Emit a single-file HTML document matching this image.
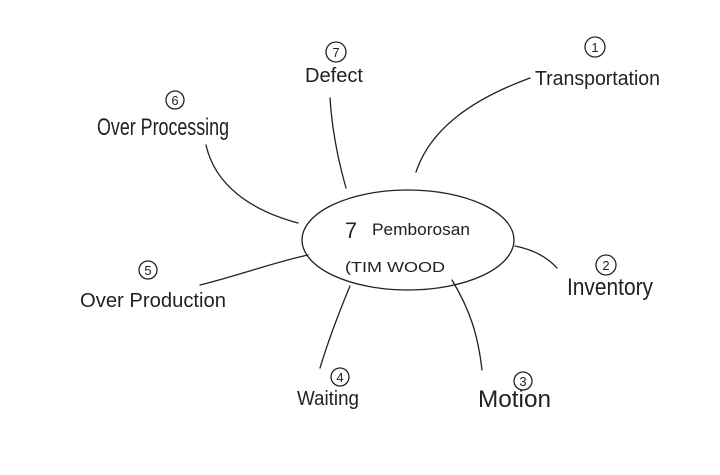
<!DOCTYPE html>
<html><head><meta charset="utf-8"><style>
html,body{margin:0;padding:0;background:#fff;}
svg{display:block}
text{font-family:"Liberation Sans",sans-serif;fill:#222;}
</style></head><body>
<svg width="720" height="475" viewBox="0 0 720 475" xmlns="http://www.w3.org/2000/svg">
<g fill="none" stroke="#222" stroke-width="1.3" stroke-linecap="round">
<ellipse cx="408" cy="240" rx="106" ry="50"/>
<path d="M416,172 C430,130 470,100 530,78"/>
<path d="M330,98 C332,130 338,160 346,188"/>
<path d="M206,145 C215,185 250,210 298,223"/>
<path d="M200,285 C240,275 275,262 308,255"/>
<path d="M350,286 C340,310 330,335 320,368"/>
<path d="M452,280 C470,310 478,335 482,370"/>
<path d="M515,246 C535,250 548,258 557,268"/>
<circle cx="595" cy="47" r="10"/>
<circle cx="336" cy="52" r="10"/>
<circle cx="175" cy="100" r="9"/>
<circle cx="148" cy="270" r="9"/>
<circle cx="340" cy="377" r="9"/>
<circle cx="523" cy="381" r="9"/>
<circle cx="606" cy="265" r="10"/>
</g>
<g font-size="13" text-anchor="middle">
<text x="595" y="52">1</text>
<text x="336" y="57">7</text>
<text x="175" y="105">6</text>
<text x="148" y="275">5</text>
<text x="340" y="382">4</text>
<text x="523" y="386">3</text>
<text x="606" y="270">2</text>
</g>
<g font-size="20" font-weight="300">
<text x="535" y="85" textLength="125" lengthAdjust="spacingAndGlyphs">Transportation</text>
<text x="305" y="82" textLength="58" lengthAdjust="spacingAndGlyphs">Defect</text>
<text x="97" y="135" font-size="24" textLength="132" lengthAdjust="spacingAndGlyphs">Over Processing</text>
<text x="80" y="307" textLength="146" lengthAdjust="spacingAndGlyphs">Over Production</text>
<text x="297" y="405" textLength="62" lengthAdjust="spacingAndGlyphs">Waiting</text>
<text x="478" y="407" font-size="24" textLength="73" lengthAdjust="spacingAndGlyphs">Motion</text>
<text x="567" y="295" font-size="24" textLength="86" lengthAdjust="spacingAndGlyphs">Inventory</text>
<text x="345" y="238" font-size="22" textLength="12" lengthAdjust="spacingAndGlyphs">7</text>
<text x="372" y="235" font-size="17" textLength="98" lengthAdjust="spacingAndGlyphs">Pemborosan</text>
<text x="345" y="272" font-size="15" textLength="100" lengthAdjust="spacingAndGlyphs">(TIM WOOD</text>
</g>
</svg>
</body></html>
